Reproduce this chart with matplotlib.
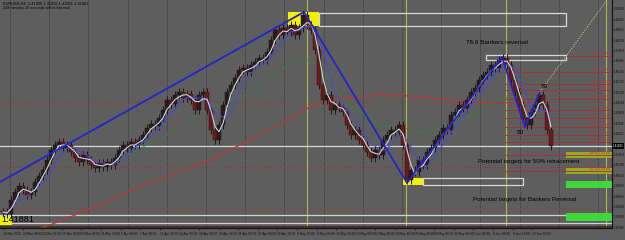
import matplotlib
matplotlib.use("Agg")
import matplotlib.pyplot as plt
import numpy as np
import pandas as pd
from matplotlib.patches import Rectangle

# ---------------- data ----------------
closes = [1.3792, 1.3780, 1.3864, 1.3912, 1.3948, 1.3924, 1.3894, 1.3912, 1.3972, 1.4008,
          1.4044, 1.4104, 1.4164, 1.4194, 1.4212, 1.4176, 1.4194, 1.4152, 1.4116, 1.4092,
          1.4134, 1.4104, 1.4074, 1.4056, 1.4086, 1.4062, 1.4092, 1.4074, 1.4116, 1.4164,
          1.4194, 1.4176, 1.4212, 1.4194, 1.4224, 1.4254, 1.4296, 1.4320, 1.4308, 1.4356,
          1.4404, 1.4464, 1.4440, 1.4494, 1.4512, 1.4476, 1.4500, 1.4464, 1.4404, 1.4494,
          1.4512, 1.4404, 1.4284, 1.4224, 1.4314, 1.4434, 1.4512, 1.4554, 1.4596, 1.4644,
          1.4656, 1.4632, 1.4674, 1.4692, 1.4716, 1.4704, 1.4752, 1.4824, 1.4884, 1.4854,
          1.4896, 1.4872, 1.4914, 1.4854, 1.4896, 1.4974, 1.4914, 1.4884, 1.4764, 1.4554,
          1.4464, 1.4494, 1.4404, 1.4434, 1.4416, 1.4392, 1.4314, 1.4254, 1.4284, 1.4224,
          1.4194, 1.4152, 1.4116, 1.4164, 1.4134, 1.4224, 1.4254, 1.4284, 1.4272, 1.4314,
          1.4194, 1.3984, 1.4044, 1.4032, 1.4104, 1.4074, 1.4152, 1.4176, 1.4224, 1.4254,
          1.4296, 1.4284, 1.4374, 1.4392, 1.4434, 1.4416, 1.4464, 1.4512, 1.4536, 1.4584,
          1.4614, 1.4632, 1.4674, 1.4656, 1.4704, 1.4716, 1.4674, 1.4584, 1.4512, 1.4434,
          1.4356, 1.4314, 1.4392, 1.4434, 1.4494, 1.4434, 1.4284, 1.4188]

green_ma_x = [24.25, 30, 40, 49.25, 61, 65, 74.25, 79.25, 85, 94.25, 99.25, 104.25, 111.75, 118.5, 123.5, 129.25, 136.75]
green_ma_p = [1.4044, 1.4122, 1.4242, 1.4392, 1.4494, 1.4584, 1.4716, 1.4674, 1.4464, 1.4314, 1.4302, 1.4266, 1.4314, 1.4386, 1.4464, 1.4494, 1.4464]

red_ma_x = [6.75, 11.75, 24.25, 31, 41.75, 51.75, 64.25, 76.75, 84.25, 94.25, 101.75, 116.75, 124.25, 136.75]
red_ma_p = [1.3672, 1.3714, 1.3834, 1.3912, 1.4014, 1.4104, 1.4254, 1.4422, 1.4476, 1.4494, 1.4488, 1.4452, 1.4446, 1.4464]

# drawn trend lines (bar, price) anchors
trend_x = [-0.75, 75.25, 101.0, 124.75, 130.5, 134.25]
trend_p = [1.3972, 1.4992, 1.3966, 1.4722, 1.4302, 1.4512]

fib_names = ["0.0", "23.6", "38.2", "50.0", "61.8", "76.4", "100.0", "123.6", "138.2", "161.8", "200.0", "261.8"]
fib_prices = [1.4728, 1.4632, 1.4560, 1.4524, 1.4470, 1.4404, 1.4356, 1.4302, 1.4254, 1.4212, 1.4134, 1.4038]

price_ticks = [1.50100, 1.49476, 1.48852, 1.48228, 1.47604, 1.46980, 1.46356, 1.45732, 1.45108,
               1.44484, 1.43860, 1.43236, 1.42612, 1.41364, 1.40740, 1.40116, 1.39492,
               1.38868, 1.38244, 1.37620, 1.36996]

date_labels = ["16 Mar 2011", "18 Mar 08:00", "22 Mar 16:00", "25 Mar 00:00", "29 Mar 08:00",
               "31 Mar 16:00", "5 Apr 00:00", "7 Apr 08:00", "11 Apr 16:00", "14 Apr 00:00",
               "18 Apr 08:00", "20 Apr 16:00", "25 Apr 00:00", "27 Apr 08:00", "29 Apr 16:00",
               "4 May 00:00", "6 May 08:00", "10 May 16:00", "13 May 00:00", "17 May 08:00",
               "19 May 16:00", "24 May 00:00", "26 May 08:00", "30 May 16:00", "2 Jun 00:00",
               "6 Jun 08:00", "8 Jun 16:00", "13 Jun 00:00"]

current_price = 1.41881
header1 = "EURUSD,H4  1.41908 1.41908 1.41881 1.41881"
header2 = "238 minutes 26 seconds left to bar end"

# ---------------- figure ----------------
BG = "#5e5e5e"
plt.rcParams['font.family'] = ['Liberation Sans', 'DejaVu Sans']
fig = plt.figure(figsize=(6.25, 2.4), dpi=100, facecolor=BG)
ax = fig.add_axes([0, 12/240, 612/625, 228/240], facecolor=BG)
ax.set_xlim(-0.75, 152.25)
ax.set_ylim(1.3696, 1.5064)

# grid (vertical dotted)
for gx in np.arange(1.75, 152, 9.8):
    ax.axvline(gx, color="#2a2a2a", lw=0.6, ls=(0, (1, 1.5)), zorder=0.5)

# red dotted horizontals
for hp in [1.4452, 1.4062, 1.3816]:
    ax.axhline(hp, color="#9a3a3a", lw=0.6, ls=(0, (2, 2)), zorder=0.6)

# yellow vertical separators
for vx in [76, 100.75, 125.75, 150.75]:
    ax.axvline(vx, color="#b8b84a", lw=0.8, zorder=0.7)

# white horizontal lines
ax.axhline(current_price, color="#d8d8d8", lw=0.9, zorder=1)
ax.axhline(1.3774, color="#d0d0d0", lw=0.9, zorder=1)
ax.axhline(1.3724, color="#d0d0d0", lw=0.9, zorder=1)

# bottom dark strip
ax.axhspan(1.3696, 1.3708, color="#3e3434", zorder=1.05, lw=0)

# moving averages
ax.plot(red_ma_x, red_ma_p, color="#b03a3a", lw=0.9, zorder=2)
ax.plot(green_ma_x, green_ma_p, color="#3f7f3f", lw=0.6, zorder=2)

c = pd.Series(closes)
ma_fast = c.rolling(3, min_periods=1).mean()
ma_slow = c.rolling(6, min_periods=1).mean()
xs = np.arange(len(closes))

# candles
opens = np.r_[closes[0], closes[:-1]]
for i, (o, cl) in enumerate(zip(opens, closes)):
    lo, hi = min(o, cl), max(o, cl)
    ax.vlines(i, lo - 0.0026, hi + 0.0026, color="#1a1a1a", lw=0.7, zorder=3)
    col = "#6e1818" if cl < o else "#2b1a1a"
    ax.add_patch(Rectangle((i - 0.4, lo), 0.8, max(hi - lo, 0.0005), facecolor=col,
                           edgecolor="#1a1a1a", lw=0.3, zorder=3.1))

ax.plot(xs, ma_slow, color="#4a4ad0", lw=0.8, zorder=4)
ax.plot(xs, ma_fast, color="#c8d8ea", lw=0.8, zorder=4.1)

# trend lines
ax.plot(trend_x, trend_p, color="#2424c8", lw=1.3, zorder=5)
ax.plot([134.25, 151.0], [1.4512, 1.5064], color="#d8d890", lw=0.7, ls=(0, (1, 1.5)), zorder=5)

# rectangles
def rect(x0, x1, p0, p1, fc="none", ec="none", lw=0.9, z=1.5):
    ax.add_patch(Rectangle((x0, p0), x1 - x0, p1 - p0, facecolor=fc, edgecolor=ec, lw=lw, zorder=z))

rect(79, 140.75, 1.4908, 1.4986, ec="#d8d8d8")
rect(71.25, 79, 1.4908, 1.4992, fc="#f2f200", z=1.6)
rect(120.75, 140.75, 1.4704, 1.4734, ec="#d8d8d8")
rect(105, 130, 1.3954, 1.3996, ec="#d8d8d8")
rect(100, 105, 1.3954, 1.3996, fc="#f2f200", z=1.6)
rect(140.75, 152.25, 1.4116, 1.4152, fc="#98a828", z=1.2)
rect(140.75, 152.25, 1.4020, 1.4056, fc="#98a828", z=1.2)
rect(140.75, 152.25, 1.3936, 1.3978, fc="#3ed83a", z=1.2)
rect(140.75, 152.25, 1.3738, 1.3786, fc="#3ed83a", z=1.2)
rect(-0.75, 2.25, 1.3714, 1.3770, fc="#f2f200", z=1.6)

# fib levels
for i, (nm, fp) in enumerate(zip(fib_names, fib_prices)):
    x0 = 140.75 if i == 0 else 125.5
    ax.plot([x0, 152.25], [fp, fp], color="#a83030", lw=0.6, zorder=1.8)
    ax.text(152.0, fp + 0.0002, f"{nm}({fp:.4f})", color="#c83030", fontsize=2.5,
            ha="right", va="bottom", zorder=6)

# texts
ax.text(115.75, 1.4812, "78.6 Bankers reversal", fontsize=4.6, color="#000000", va="center", ha="left", zorder=6)
ax.text(118.75, 1.4092, "Potential targets for 50% retracement", fontsize=4.4, color="#000000", va="center", zorder=6)
ax.text(117.5, 1.3864, "Potential targets for Bankers Reversal", fontsize=4.4, color="#000000", va="center", zorder=6)
ax.text(128.5, 1.4272, "50", fontsize=4.6, color="#000000", va="center", ha="left", zorder=6)
ax.text(134.5, 1.4542, "50", fontsize=4.6, color="#000000", va="center", ha="left", zorder=6)
ax.text(-0.4, 1.3744, "1.41881", fontsize=6.6, color="#000000", va="center", ha="left", zorder=6)
ax.text(0.005, 0.995, header1, transform=ax.transAxes, fontsize=2.8, color="#000000", va="top", ha="left")
ax.text(0.005, 0.972, header2, transform=ax.transAxes, fontsize=2.8, color="#000000", va="top", ha="left")

# axes styling
for s in ax.spines.values():
    s.set_visible(False)
ax.spines['right'].set_visible(True)
ax.spines['right'].set_color("#111111")
ax.spines['right'].set_linewidth(0.8)
ax.spines['bottom'].set_visible(True)
ax.spines['bottom'].set_color("#111111")
ax.spines['bottom'].set_linewidth(0.8)

ax.yaxis.tick_right()
ax.set_yticks(price_ticks)
ax.set_yticklabels([f"{t:.5f}" for t in price_ticks])
ax.tick_params(axis="y", labelsize=2.2, colors="#111111", length=1.0, width=0.4, pad=0.3)

ax.set_xticks(np.arange(len(date_labels)) * 4.9)
ax.set_xticklabels(date_labels)
for lab in ax.get_xticklabels():
    lab.set_ha("left")
ax.tick_params(axis="x", labelsize=2.3, colors="#111111", length=1.5, width=0.4, pad=1.5)

# current price box on axis
ax.text(1.0015, current_price, f"{current_price:.5f}", transform=ax.get_yaxis_transform(),
        fontsize=2.2, color="#ffffff", va="center", ha="left",
        bbox=dict(boxstyle="square,pad=0.2", fc="#000000", ec="none"), clip_on=False)

fig.savefig("out.png", dpi=100, facecolor=BG)
